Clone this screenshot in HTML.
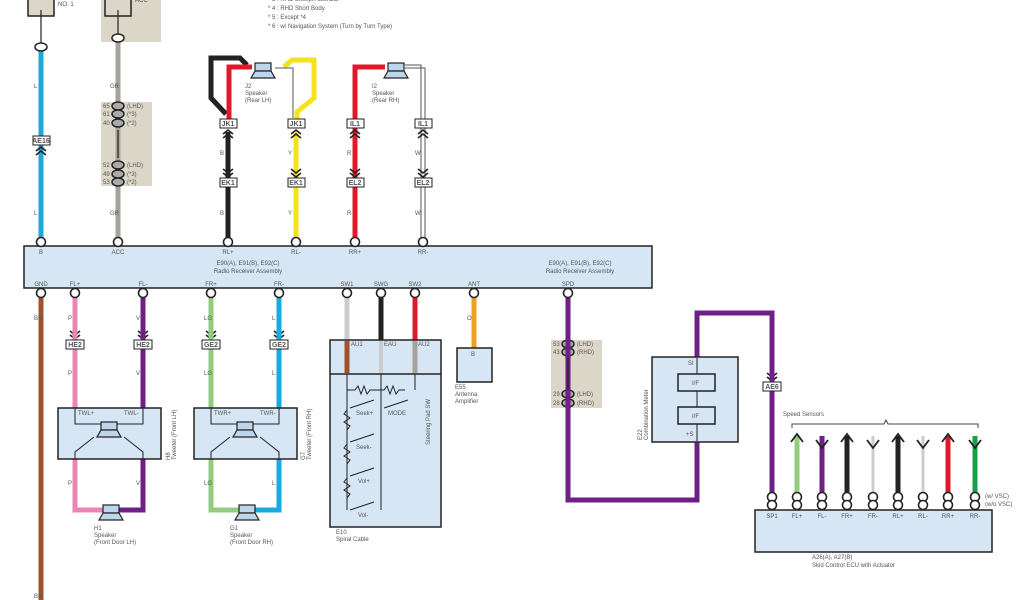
<!DOCTYPE html>
<html><head><meta charset="utf-8"><style>
html,body{margin:0;padding:0;background:#fff;width:1024px;height:600px;overflow:hidden}
svg{display:block}
text{font-family:"Liberation Sans",sans-serif;fill:#555}
</style></head><body>
<svg width="1024" height="600" viewBox="0 0 1024 600" xmlns="http://www.w3.org/2000/svg">
<defs>
<g id="pin"><circle r="4.5" fill="#fff" stroke="#222" stroke-width="1.6"/></g>
<g id="spk"><rect x="-8" y="-7" width="16" height="8" fill="#bcd6ee" stroke="#222" stroke-width="1.2"/><path d="M-8 1 L-12 8 L12 8 L8 1Z" fill="#bcd6ee" stroke="#222" stroke-width="1.2"/></g>
<g id="chd"><path d="M-5 -7 l5 4 l5 -4 M-5 -3 l5 4 l5 -4" fill="none" stroke="#222" stroke-width="1.6"/></g>
<g id="chu"><path d="M-5 7 l5 -4 l5 4 M-5 3 l5 -4 l5 4" fill="none" stroke="#222" stroke-width="1.6"/></g>
</defs>
<rect x="101" y="0" width="60" height="42" fill="#dcd6c8"/>
<rect x="101" y="102" width="51" height="84" fill="#dcd6c8"/>
<rect x="551" y="340" width="51" height="68" fill="#dcd6c8"/>
<rect x="28" y="-2" width="26" height="18" fill="#dcd6c8" stroke="#222" stroke-width="1.5"/>
<rect x="105" y="-2" width="26" height="18" fill="#dcd6c8" stroke="#222" stroke-width="1.5"/>
<text x="58" y="6" font-size="6">NO. 1</text>
<text x="135" y="2" font-size="6">ACC</text>
<text x="268" y="10" font-size="6">* 4 : RHD Short Body</text>
<text x="268" y="19" font-size="6">* 5 : Except *4</text>
<text x="268" y="28" font-size="6">* 6 : w/ Navigation System (Turn by Turn Type)</text>
<text x="268" y="1" font-size="6">* 3 : RHD Except Australia</text>
<line x1="41" y1="10" x2="41" y2="43" stroke="#222" stroke-width="1.2"/>
<line x1="118" y1="10" x2="118" y2="34" stroke="#222" stroke-width="1.2"/>
<line x1="41" y1="50" x2="41" y2="242" stroke="#1ba9df" stroke-width="5"/>
<line x1="118" y1="42" x2="118" y2="242" stroke="#a8a39a" stroke-width="5"/>
<line x1="118" y1="130" x2="118" y2="158" stroke="#222" stroke-width="1.2"/>
<polyline points="226,114 211,98 211,58 240,58 247,65" fill="none" stroke="#222" stroke-width="5"/>
<polyline points="229,125 229,67 252,67" fill="none" stroke="#e0182d" stroke-width="5"/>
<line x1="228" y1="132" x2="228" y2="242" stroke="#222" stroke-width="5"/>
<polyline points="297,125 297,112 314,98 314,60 292,60 284,67" fill="none" stroke="#f5e21a" stroke-width="5"/>
<polyline points="293,118 293,68 275,68" fill="none" stroke="#555" stroke-width="1"/>
<line x1="296" y1="132" x2="296" y2="242" stroke="#f5e21a" stroke-width="5"/>
<polyline points="355,242 355,67 385,67" fill="none" stroke="#e0182d" stroke-width="5"/>
<polyline points="405,65 421,65 421,242" fill="none" stroke="#555" stroke-width="1"/>
<polyline points="405,68 425,68 425,242" fill="none" stroke="#555" stroke-width="1"/>
<use href="#spk" x="263" y="70"/><use href="#spk" x="396" y="70"/>
<text x="245" y="88" font-size="6">J2</text><text x="245" y="95" font-size="6">Speaker</text><text x="245" y="102" font-size="6">(Rear LH)</text>
<text x="372" y="88" font-size="6">I2</text><text x="372" y="95" font-size="6">Speaker</text><text x="372" y="102" font-size="6">(Rear RH)</text>
<use href="#chu" x="41" y="148"/><use href="#chu" x="228" y="131"/><use href="#chu" x="296" y="131"/><use href="#chu" x="355" y="131"/><use href="#chu" x="423" y="131"/>
<use href="#chd" x="228" y="176"/><use href="#chd" x="296" y="176"/><use href="#chd" x="355" y="176"/><use href="#chd" x="423" y="176"/>
<use href="#chd" x="75" y="338"/><use href="#chd" x="143" y="338"/><use href="#chd" x="211" y="338"/><use href="#chd" x="279" y="338"/><use href="#chd" x="772" y="380"/>
<g font-size="7" text-anchor="middle">
<rect x="33" y="136" width="17" height="9" fill="#fff" stroke="#222"/><text x="41" y="143" fill="#222" font-weight="bold">AE16</text>
<rect x="220" y="119" width="17" height="9" fill="#fff" stroke="#222"/><text x="228" y="126" fill="#222" font-weight="bold">JK1</text>
<rect x="288" y="119" width="17" height="9" fill="#fff" stroke="#222"/><text x="296" y="126" fill="#222" font-weight="bold">JK1</text>
<rect x="347" y="119" width="17" height="9" fill="#fff" stroke="#222"/><text x="355" y="126" fill="#222" font-weight="bold">IL1</text>
<rect x="415" y="119" width="17" height="9" fill="#fff" stroke="#222"/><text x="423" y="126" fill="#222" font-weight="bold">IL1</text>
<rect x="220" y="178" width="17" height="9" fill="#fff" stroke="#222"/><text x="228" y="185" fill="#222" font-weight="bold">EK1</text>
<rect x="288" y="178" width="17" height="9" fill="#fff" stroke="#222"/><text x="296" y="185" fill="#222" font-weight="bold">EK1</text>
<rect x="347" y="178" width="17" height="9" fill="#fff" stroke="#222"/><text x="355" y="185" fill="#222" font-weight="bold">EL2</text>
<rect x="415" y="178" width="17" height="9" fill="#fff" stroke="#222"/><text x="423" y="185" fill="#222" font-weight="bold">EL2</text>
</g>
<ellipse cx="41" cy="47" rx="6" ry="4" fill="#fff" stroke="#222" stroke-width="1.5"/>
<ellipse cx="118" cy="38" rx="6" ry="4" fill="#fff" stroke="#222" stroke-width="1.5"/>
<g fill="#aaa" stroke="#222" stroke-width="1.5">
<ellipse cx="118" cy="106" rx="6" ry="4"/><ellipse cx="118" cy="114" rx="6" ry="4"/><ellipse cx="118" cy="123" rx="6" ry="4"/>
<ellipse cx="118" cy="165" rx="6" ry="4"/><ellipse cx="118" cy="174" rx="6" ry="4"/><ellipse cx="118" cy="182" rx="6" ry="4"/>
<ellipse cx="568" cy="344" rx="6" ry="4"/><ellipse cx="568" cy="352" rx="6" ry="4"/><ellipse cx="568" cy="394" rx="6" ry="4"/><ellipse cx="568" cy="403" rx="6" ry="4"/>
</g>
<g font-size="6"><text x="127" y="108">(LHD)</text><text x="127" y="116">(*3)</text><text x="127" y="125">(*2)</text>
<text x="127" y="167">(LHD)</text><text x="127" y="176">(*3)</text><text x="127" y="184">(*2)</text>
<text x="577" y="346">(LHD)</text><text x="577" y="354">(RHD)</text><text x="577" y="396">(LHD)</text><text x="577" y="405">(RHD)</text>
<text x="103" y="108">65</text><text x="103" y="116">61</text><text x="103" y="125">40</text><text x="103" y="167">52</text><text x="103" y="176">49</text><text x="103" y="184">53</text>
<text x="553" y="346">53</text><text x="553" y="354">43</text><text x="553" y="396">29</text><text x="553" y="405">28</text></g>
<rect x="24" y="246" width="628" height="42" fill="#d6e6f4" stroke="#222" stroke-width="1.5"/>
<g font-size="6" text-anchor="middle">
<text x="41" y="254">B</text><text x="118" y="254">ACC</text><text x="228" y="254">RL+</text><text x="296" y="254">RL-</text><text x="355" y="254">RR+</text><text x="423" y="254">RR-</text>
<text x="248" y="265">E90(A), E91(B), E92(C)</text><text x="248" y="273">Radio Receiver Assembly</text>
<text x="580" y="265">E90(A), E91(B), E92(C)</text><text x="580" y="273">Radio Receiver Assembly</text>
<text x="41" y="286">GND</text><text x="75" y="286">FL+</text><text x="143" y="286">FL-</text><text x="211" y="286">FR+</text><text x="279" y="286">FR-</text>
<text x="347" y="286">SW1</text><text x="381" y="286">SWG</text><text x="415" y="286">SW2</text><text x="474" y="286">ANT</text><text x="568" y="286">SPD</text>
</g>
<line x1="41" y1="296" x2="41" y2="600" stroke="#a0522d" stroke-width="5"/>
<polyline points="75,296 75,510 105,510" fill="none" stroke="#ea86b6" stroke-width="5"/>
<polyline points="143,296 143,510 118,510" fill="none" stroke="#6f1f86" stroke-width="5"/>
<polyline points="211,296 211,510 240,510" fill="none" stroke="#93cc80" stroke-width="5"/>
<polyline points="279,296 279,510 254,510" fill="none" stroke="#1ba9df" stroke-width="5"/>
<line x1="347" y1="296" x2="347" y2="340" stroke="#ccc" stroke-width="5"/>
<line x1="381" y1="296" x2="381" y2="340" stroke="#222" stroke-width="5"/>
<line x1="415" y1="296" x2="415" y2="340" stroke="#e0182d" stroke-width="5"/>
<line x1="474" y1="296" x2="474" y2="348" stroke="#eea020" stroke-width="5"/>
<polyline points="568,296 568,500 697,500 697,442" fill="none" stroke="#6f1f86" stroke-width="5"/>
<polyline points="697,357 697,313 772,313 772,510" fill="none" stroke="#6f1f86" stroke-width="5"/>
<line x1="568" y1="358" x2="568" y2="390" stroke="#222" stroke-width="1.2"/>
<g font-size="7" text-anchor="middle">
<rect x="66" y="340" width="18" height="9" fill="#fff" stroke="#222"/><text x="75" y="347" fill="#222" font-weight="bold">HE2</text>
<rect x="134" y="340" width="18" height="9" fill="#fff" stroke="#222"/><text x="143" y="347" fill="#222" font-weight="bold">HE2</text>
<rect x="202" y="340" width="18" height="9" fill="#fff" stroke="#222"/><text x="211" y="347" fill="#222" font-weight="bold">GE2</text>
<rect x="270" y="340" width="18" height="9" fill="#fff" stroke="#222"/><text x="279" y="347" fill="#222" font-weight="bold">GE2</text>
<rect x="763" y="382" width="18" height="9" fill="#fff" stroke="#222"/><text x="772" y="389" fill="#222" font-weight="bold">AE6</text>
</g>
<g fill="#d6e6f4" stroke="#222" stroke-width="1.5">
<rect x="58" y="408" width="103" height="51"/><rect x="194" y="408" width="103" height="51"/>
<rect x="330" y="340" width="111" height="187"/><line x1="330" y1="374" x2="441" y2="374"/>
<rect x="457" y="348" width="35" height="34"/>
<rect x="652" y="357" width="86" height="85"/>
<rect x="755" y="510" width="237" height="42"/>
</g>
<line x1="347" y1="341" x2="347" y2="373" stroke="#a0522d" stroke-width="5"/>
<line x1="381" y1="341" x2="381" y2="373" stroke="#ccc" stroke-width="4"/>
<line x1="415" y1="341" x2="415" y2="373" stroke="#a8a39a" stroke-width="5"/>
<g fill="none" stroke="#222" stroke-width="1">
<path d="M75 408 V424 H143 V408 M94 437 L75 452 V459 M124 437 L143 452 V459"/>
<path d="M211 408 V424 H279 V408 M230 437 L211 452 V459 M260 437 L279 452 V459"/>
<line x1="697" y1="358" x2="697" y2="441"/>
<line x1="347" y1="374" x2="347" y2="510"/><line x1="381" y1="374" x2="381" y2="510"/><line x1="415" y1="374" x2="415" y2="390"/>
<path d="M347 390 h8 l3 -4 l3 8 l3 -8 l3 8 l3 -4 h14 l3 -4 l3 8 l3 -8 l3 8 l3 -4 h6"/>
<path d="M350 408 l24 -8 M384 408 l24 -8 M350 442 l24 -8 M350 476 l24 -8 M350 510 l24 -8"/>
<path d="M347 410 l-3 4 l6 4 l-6 4 l6 4 l-3 4 M347 444 l-3 4 l6 4 l-6 4 l6 4 l-3 4 M347 478 l-3 4 l6 4 l-6 4 l6 4 l-3 4"/>
</g>
<rect x="678" y="374" width="37" height="17" fill="#d6e6f4" stroke="#222" stroke-width="1.5"/>
<rect x="678" y="407" width="37" height="17" fill="#d6e6f4" stroke="#222" stroke-width="1.5"/>
<text x="692" y="385" font-size="6">I/F</text><text x="692" y="418" font-size="6">I/F</text>
<use href="#spk" x="109" y="429"/><use href="#spk" x="245" y="429"/>
<use href="#spk" x="111" y="512"/><use href="#spk" x="247" y="512"/>
<g font-size="6">
<text x="78" y="415">TWL+</text><text x="124" y="415">TWL-</text><text x="214" y="415">TWR+</text><text x="260" y="415">TWR-</text>
<text x="94" y="530">H1</text><text x="94" y="537">Speaker</text><text x="94" y="544">(Front Door LH)</text>
<text x="230" y="530">G1</text><text x="230" y="537">Speaker</text><text x="230" y="544">(Front Door RH)</text>
<text x="336" y="534">E10</text><text x="336" y="541">Spiral Cable</text>
<text x="455" y="389">E55</text><text x="455" y="396">Antenna</text><text x="455" y="403">Amplifier</text>
<text x="351" y="346">AU1</text><text x="384" y="346">EAU</text><text x="418" y="346">AU2</text>
<text x="471" y="356">B</text>
<text x="356" y="415">Seek+</text><text x="388" y="415">MODE</text><text x="356" y="449">Seek-</text><text x="358" y="483">Vol+</text><text x="358" y="517">Vol-</text>
<text x="688" y="365">SI</text><text x="686" y="436">+S</text>
<text x="783" y="416">Speed Sensors</text>
<text x="812" y="559">A26(A), A27(B)</text><text x="812" y="567">Skid Control ECU with Actuator</text>
<text x="985" y="498">(w/ VSC)</text><text x="985" y="506">(w/o VSC)</text>
</g>
<text font-size="6" transform="translate(430,445) rotate(-90)">Steering Pad SW</text>
<text font-size="6" transform="translate(170,460) rotate(-90)">H8</text><text font-size="6" transform="translate(176,460) rotate(-90)">Tweeter (Front LH)</text>
<text font-size="6" transform="translate(305,460) rotate(-90)">G7</text><text font-size="6" transform="translate(311,460) rotate(-90)">Tweeter (Front RH)</text>
<text font-size="6" transform="translate(642,440) rotate(-90)">E22</text><text font-size="6" transform="translate(648,440) rotate(-90)">Combination Meter</text>
<path d="M792 428 V424 H884 L886 420 L888 424 H978 V428" fill="none" stroke="#444"/>
<g stroke-width="5" fill="none">
<line x1="797" y1="436" x2="797" y2="496" stroke="#93cc80"/>
<line x1="822" y1="436" x2="822" y2="496" stroke="#6f1f86"/>
<line x1="847" y1="436" x2="847" y2="496" stroke="#222"/>
<line x1="873" y1="436" x2="873" y2="496" stroke="#ccc" stroke-width="3"/>
<line x1="898" y1="436" x2="898" y2="496" stroke="#222"/>
<line x1="923" y1="436" x2="923" y2="496" stroke="#ccc" stroke-width="3"/>
<line x1="948" y1="436" x2="948" y2="496" stroke="#e0182d"/>
<line x1="975" y1="436" x2="975" y2="496" stroke="#1aa04a"/>
</g>
<g stroke="#222" stroke-width="1.8" fill="none">
<path d="M791 442 l6 -8 l6 8 M841 442 l6 -8 l6 8 M892 442 l6 -8 l6 8 M942 442 l6 -8 l6 8"/>
<path d="M816 440 l6 8 l6 -8 M867 440 l6 8 l6 -8 M917 440 l6 8 l6 -8 M969 440 l6 8 l6 -8"/>
</g>
<g>
<use href="#pin" x="41" y="242"/><use href="#pin" x="118" y="242"/><use href="#pin" x="228" y="242"/><use href="#pin" x="296" y="242"/><use href="#pin" x="355" y="242"/><use href="#pin" x="423" y="242"/>
<use href="#pin" x="41" y="293"/><use href="#pin" x="75" y="293"/><use href="#pin" x="143" y="293"/><use href="#pin" x="211" y="293"/><use href="#pin" x="279" y="293"/><use href="#pin" x="347" y="293"/><use href="#pin" x="381" y="293"/><use href="#pin" x="415" y="293"/><use href="#pin" x="474" y="293"/><use href="#pin" x="568" y="293"/>
<use href="#pin" x="772" y="497"/><use href="#pin" x="772" y="505"/><use href="#pin" x="797" y="497"/><use href="#pin" x="797" y="505"/><use href="#pin" x="822" y="497"/><use href="#pin" x="822" y="505"/><use href="#pin" x="847" y="497"/><use href="#pin" x="847" y="505"/><use href="#pin" x="873" y="497"/><use href="#pin" x="873" y="505"/><use href="#pin" x="898" y="497"/><use href="#pin" x="898" y="505"/><use href="#pin" x="923" y="497"/><use href="#pin" x="923" y="505"/><use href="#pin" x="948" y="497"/><use href="#pin" x="948" y="505"/><use href="#pin" x="975" y="497"/><use href="#pin" x="975" y="505"/>
</g>
<g font-size="6" text-anchor="middle">
<text x="772" y="518">SP1</text><text x="797" y="518">FL+</text><text x="822" y="518">FL-</text><text x="847" y="518">FR+</text><text x="873" y="518">FR-</text><text x="898" y="518">RL+</text><text x="923" y="518">RL-</text><text x="948" y="518">RR+</text><text x="975" y="518">RR-</text>
</g>
<g font-size="6" fill="#555">
<text x="34" y="88">L</text><text x="34" y="215">L</text><text x="110" y="88">GR</text><text x="110" y="215">GR</text>
<text x="220" y="155">B</text><text x="288" y="155">Y</text><text x="347" y="155">R</text><text x="415" y="155">W</text>
<text x="220" y="215">B</text><text x="288" y="215">Y</text><text x="347" y="215">R</text><text x="415" y="215">W</text>
<text x="34" y="320">BR</text><text x="68" y="320">P</text><text x="136" y="320">V</text><text x="204" y="320">LG</text><text x="272" y="320">L</text>
<text x="68" y="375">P</text><text x="136" y="375">V</text><text x="204" y="375">LG</text><text x="272" y="375">L</text>
<text x="68" y="485">P</text><text x="136" y="485">V</text><text x="204" y="485">LG</text><text x="272" y="485">L</text>
<text x="34" y="598">BR</text><text x="467" y="320">O</text>
</g>
</svg>
</body></html>
